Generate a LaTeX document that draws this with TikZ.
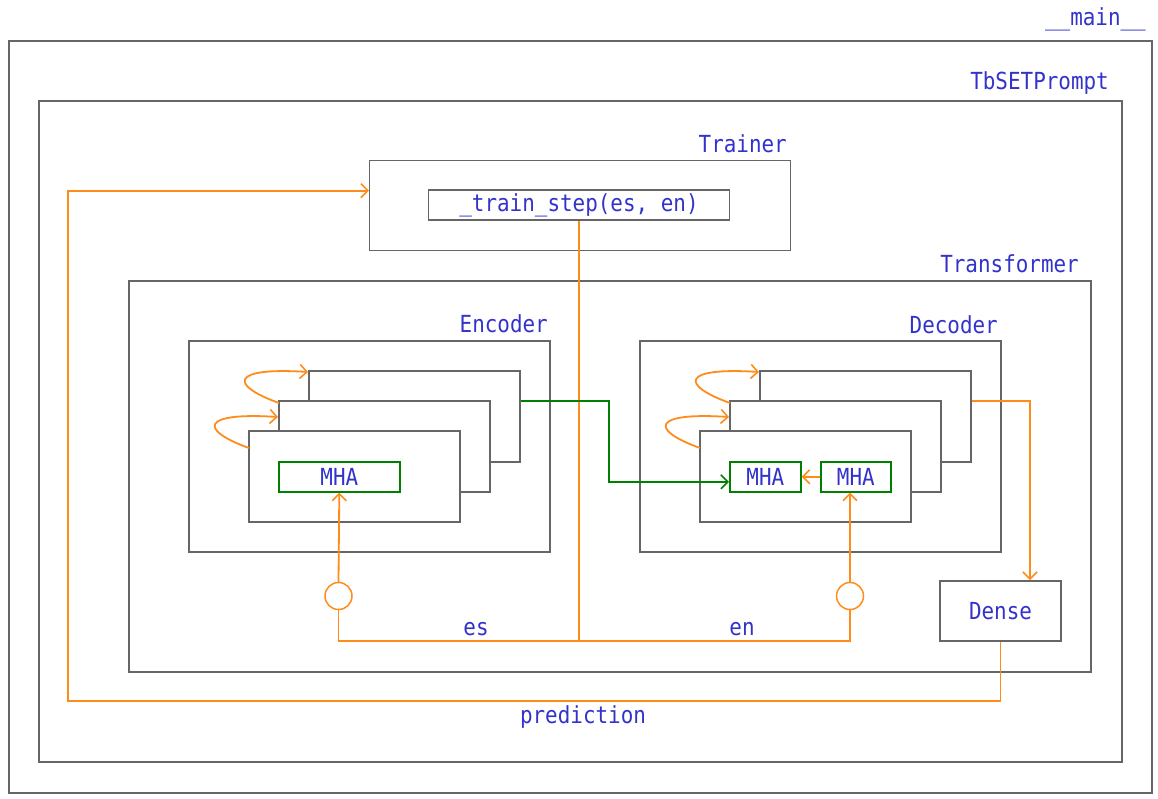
\documentclass[tikz,border=0pt]{standalone}
\usepackage{fontspec}
\setmonofont[FakeStretch=0.89]{DejaVu Sans Mono}
\usetikzlibrary{arrows.meta,calc}
\definecolor{txtblue}{HTML}{3333CC}
\definecolor{boxgray}{HTML}{666666}
\definecolor{orng}{HTML}{FF8C1A}
\definecolor{grn}{HTML}{008000}
\tikzset{
  box/.style={draw=boxgray,line width=1.8pt,fill=white,rectangle,inner sep=0pt,anchor=north west},
  gbox/.style={draw=grn,line width=1.6pt,fill=white,rectangle,inner sep=0pt,anchor=north west,
    font=\fontsize{23.5}{26}\selectfont\ttfamily,text=txtblue},
  lbl/.style={font=\fontsize{23.5}{26}\selectfont\ttfamily,text=txtblue,inner sep=0pt,anchor=base east},
  clbl/.style={font=\fontsize{23.5}{26}\selectfont\ttfamily,text=txtblue,inner sep=0pt,anchor=base},
  oline/.style={draw=orng,line width=1.8pt},
  gline/.style={draw=grn,line width=1.8pt},
  tip/.style={-{Straight Barb[length=7pt,width=14pt,line width=1.6pt]}},
  circ/.style={draw=orng,line width=1.5pt,circle,minimum size=27pt,inner sep=0pt,fill=white},
}
\begin{document}
\begin{tikzpicture}[x=1pt,y=-1pt]
\useasboundingbox[fill=white] (0,0) rectangle (1158,799);
% containers
\node[box,minimum width=1143pt,minimum height=752pt] (main) at (8,40) {};
\node[lbl] (mainl) at (1146,26) {\_\_main\_\_};
\node[box,minimum width=1083pt,minimum height=661pt] (tb) at (38,100) {};
\node[lbl] (tbl) at (1109,90) {TbSETPrompt};
\node[box,line width=1.3pt,minimum width=421pt,minimum height=90pt] (trainer) at (369,160) {};
\node[lbl] (trainerl) at (787,153) {Trainer};
\node[box,minimum width=301pt,minimum height=30pt,anchor=center,font=\fontsize{23.5}{26}\selectfont\ttfamily,text=txtblue] (ts) at (579,205) {\_train\_step(es, en)};
\node[box,minimum width=962pt,minimum height=391pt] (tf) at (128,280) {};
\node[lbl] (tfl) at (1079,273) {Transformer};
% encoder
\node[box,minimum width=361pt,minimum height=211pt] (enc) at (188,340) {};
\node[lbl] (encl) at (548,332) {Encoder};
\node[box,minimum width=211pt,minimum height=91pt] (eL3) at (308,370) {};
\node[box,minimum width=211pt,minimum height=91pt] (eL2) at (278,400) {};
\node[box,minimum width=211pt,minimum height=91pt] (eL1) at (248,430) {};
\node[gbox,minimum width=121pt,minimum height=30pt] (emha) at (278,461) {MHA};
% decoder
\node[box,minimum width=361pt,minimum height=211pt] (dec) at (639,340) {};
\node[lbl] (decl) at (998,333) {Decoder};
\node[box,minimum width=211pt,minimum height=91pt] (dL3) at (759,370) {};
\node[box,minimum width=211pt,minimum height=91pt] (dL2) at (729,400) {};
\node[box,minimum width=211pt,minimum height=91pt] (dL1) at (699,430) {};
\node[gbox,minimum width=71pt,minimum height=30pt] (dmha1) at (729,461) {MHA};
\node[gbox,minimum width=70pt,minimum height=30pt] (dmha2) at (820,461) {MHA};
% dense
\node[box,minimum width=121pt,minimum height=60pt,anchor=center,font=\fontsize{23.5}{26}\selectfont\ttfamily,text=txtblue] (dense) at (1000.5,611) {Dense};
% circles
\node[circ] (c1) at (338.5,596) {};
\node[circ] (c2) at (850,596) {};
% junctions
\coordinate (j) at (579,641);
\coordinate (pl) at (68,701);
% loops
\draw[oline,tip] ($(eL1.north west)+(1,18)$) .. controls +(-50,-18) and +(-78,-5) .. ($(eL2.north west)+(0,17)$);
\draw[oline,tip] ($(eL2.north west)+(1,3)$) .. controls +(-50,-18) and +(-78,-5) .. ($(eL3.north west)+(0,2)$);
\draw[oline,tip] ($(dL1.north west)+(1,18)$) .. controls +(-50,-18) and +(-78,-5) .. ($(dL2.north west)+(0,17)$);
\draw[oline,tip] ($(dL2.north west)+(1,3)$) .. controls +(-50,-18) and +(-78,-5) .. ($(dL3.north west)+(0,2)$);
% es/en
\draw[oline] (ts.south) -- (j);
\draw[oline] (j) -| (c1.south);
\draw[oline] (j) -| (c2.south);
\draw[oline,tip] (c1.north) -- (emha.south);
\draw[oline,tip] (c2.north) -- (c2.north |- dmha2.south);
\node[clbl] (esl) at (476,635) {es};
\node[clbl] (enl) at (742,635) {en};
% mha to mha
\draw[oline,tip] (dmha2.west) -- (dmha1.east);
% encoder to decoder
\draw[gline,tip] ($(eL3.north east)+(0,31)$) -| (609,441) |- ([yshift=-5pt]dmha1.west);
% decoder to dense
\draw[oline,tip] ($(dL3.north east)+(0,31)$) -| ([xshift=29.5pt]dense.north);
% prediction
\draw[oline,tip] (dense.south) |- (pl) |- ([yshift=15pt]trainer.west);
\node[clbl] (predl) at (583,723) {prediction};
\end{tikzpicture}
\end{document}
